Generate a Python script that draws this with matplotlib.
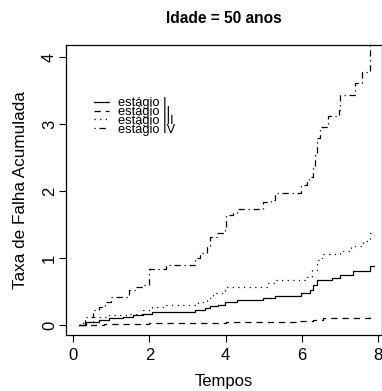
import matplotlib
matplotlib.use("Agg")
import matplotlib.pyplot as plt

plt.rcParams['font.family'] = ['Liberation Sans', 'DejaVu Sans']

title = "Idade = 50 anos"
xlabel = "Tempos"
ylabel = "Taxa de Falha Acumulada"
labels = ["estágio I", "estágio II", "estágio III", "estágio IV"]

t1 = [0.15, 0.33, 0.68, 0.94, 1.30, 1.56, 1.82, 2.08, 3.20, 3.46, 3.59, 3.81, 3.98,
      4.29, 4.99, 5.29, 5.99, 6.21, 6.30, 6.39, 6.80, 7.00, 7.35, 7.80, 7.90]
h1 = [0.00, 0.05, 0.07, 0.10, 0.12, 0.15, 0.17, 0.20, 0.22, 0.25, 0.28, 0.30, 0.35,
      0.37, 0.40, 0.43, 0.47, 0.52, 0.60, 0.67, 0.70, 0.75, 0.80, 0.88, 0.88]

t2 = [0.15, 0.80, 2.00, 3.00, 4.00, 5.00, 5.95, 6.30, 6.56, 7.20, 7.79, 7.90]
h2 = [0.00, 0.01, 0.025, 0.03, 0.04, 0.05, 0.065, 0.075, 0.10, 0.11, 0.125, 0.125]

t3 = [0.15, 0.25, 0.51, 0.94, 1.38, 1.82, 2.08, 2.43, 3.27, 3.50, 3.67, 3.98, 5.08,
      5.29, 6.13, 6.26, 6.39, 6.52, 7.00, 7.30, 7.60, 7.80, 7.90]
h3 = [0.00, 0.05, 0.12, 0.15, 0.17, 0.22, 0.27, 0.30, 0.35, 0.40, 0.48, 0.57, 0.62,
      0.67, 0.72, 0.82, 0.97, 1.06, 1.10, 1.18, 1.25, 1.37, 1.37]

t4 = [0.15, 0.32, 0.51, 0.68, 0.84, 0.99, 1.47, 1.65, 1.82, 2.00, 2.43, 3.19, 3.33,
      3.50, 3.59, 3.76, 3.98, 4.01, 4.20, 4.29, 4.99, 5.20, 5.29, 5.99, 6.13, 6.19,
      6.28, 6.35, 6.39, 6.47, 6.69, 6.98, 7.00, 7.39, 7.57, 7.79, 7.85]
h4 = [0.00, 0.12, 0.22, 0.27, 0.35, 0.42, 0.52, 0.57, 0.60, 0.84, 0.90, 1.00, 1.07,
      1.17, 1.32, 1.37, 1.44, 1.64, 1.67, 1.73, 1.84, 1.86, 1.97, 2.09, 2.16, 2.21,
      2.36, 2.56, 2.79, 2.96, 3.12, 3.21, 3.43, 3.61, 3.77, 4.35, 4.35]

xticks = [0, 2, 4, 6, 8]
yticks = [0, 1, 2, 3, 4]

fig = plt.figure(figsize=(3.82, 3.91), dpi=100)
ax = fig.add_axes([66/382, 56/391, 315.5/382, 290/391])

lw = 0.9
ax.step(t1, h1, where='post', color='black', lw=lw, label=labels[0])
ax.step(t2, h2, where='post', color='black', lw=lw, dashes=(5, 4), label=labels[1])
ax.step(t3, h3, where='post', color='black', lw=lw, dashes=(1, 3.5), label=labels[2])
ax.step(t4, h4, where='post', color='black', lw=lw, dashes=(1, 3, 5, 3), label=labels[3])

ax.set_xlim(-0.19, 8.09)
ax.set_ylim(-0.15, 4.18)
ax.set_xticks(xticks)
ax.set_yticks(yticks)
ax.set_yticklabels([str(v) for v in yticks], rotation=90, va='center')
ax.tick_params(length=5, width=0.8, labelsize=12)
ax.tick_params(axis='y', pad=1.5)
ax.tick_params(axis='x', pad=4)
for s in ax.spines.values():
    s.set_linewidth(0.9)

ax.set_xlabel(xlabel, fontsize=12, labelpad=8)
ax.set_ylabel(ylabel, fontsize=12.3, labelpad=10)
ax.set_title(title, fontsize=11.2, fontweight='bold', pad=16)

leg = ax.legend(loc='upper left', bbox_to_anchor=(0.09, 0.82), frameon=False,
                fontsize=9.3, handlelength=1.1, handletextpad=0.7,
                labelspacing=-0.25, borderpad=0, borderaxespad=0)

fig.savefig("out.png", dpi=100)
